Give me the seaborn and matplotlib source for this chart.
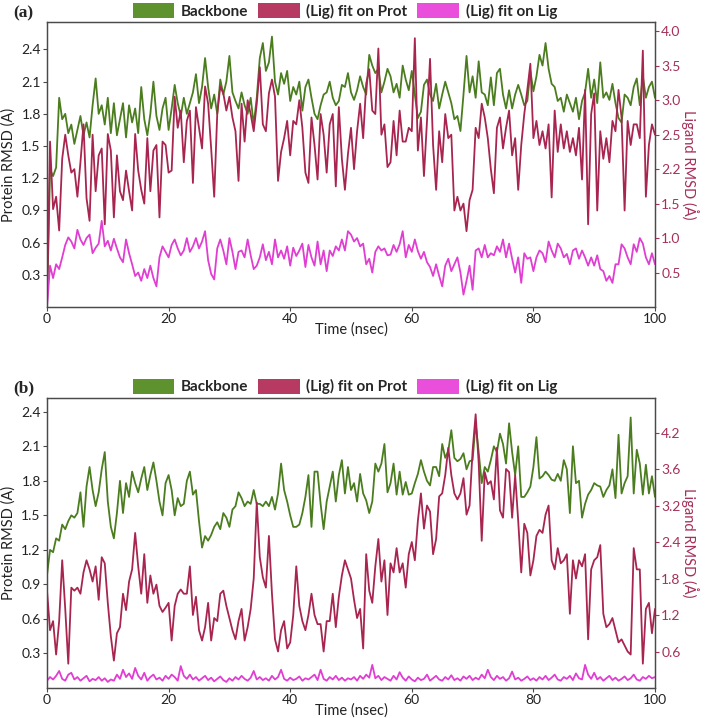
import numpy as np
import pandas as pd
import matplotlib
matplotlib.use("Agg")
import matplotlib.pyplot as plt
import seaborn as sns
from matplotlib.patches import Patch
from matplotlib.ticker import FixedLocator, FixedFormatter, FormatStrFormatter

# ---------------- data (0.5 ns sampling) ----------------
time_ns = [i * 0.5 for i in range(201)]

backbone_a = [
    0.00, 1.28, 1.22, 1.30, 1.95, 1.75, 1.80, 1.62, 1.70, 1.52,
    1.65, 1.78, 1.60, 1.72, 1.58, 1.88, 2.13, 1.80, 1.88, 1.70,
    1.95, 1.62, 1.90, 1.60, 1.75, 1.90, 1.58, 1.88, 1.72, 1.85,
    1.62, 2.05, 1.75, 1.60, 1.80, 2.10, 1.78, 1.65, 1.85, 1.95,
    1.65, 1.85, 2.07, 1.90, 1.78, 1.95, 1.80, 1.90, 2.00, 2.17,
    1.90, 2.05, 2.32, 2.05, 1.85, 1.98, 1.80, 2.12, 1.98, 2.10,
    2.34, 2.00, 1.92, 1.85, 2.00, 1.88, 1.80, 1.95, 1.70, 1.95,
    2.32, 2.46, 2.20, 2.28, 2.52, 2.10, 1.98, 2.18, 2.08, 2.20,
    1.92, 2.05, 1.98, 2.10, 1.83, 2.05, 2.12, 1.95, 1.80, 1.75,
    1.88, 1.98, 2.00, 2.10, 1.95, 1.88, 1.92, 2.07, 2.05, 2.18,
    2.00, 1.93, 2.02, 2.15, 2.05, 1.98, 2.35, 2.25, 2.18, 2.22,
    2.00, 2.10, 2.22, 2.15, 2.00, 2.08, 1.95, 2.25, 2.12, 2.02,
    2.20, 1.98, 1.76, 1.82, 2.07, 2.12, 1.98, 1.92, 2.08, 1.85,
    1.98, 2.10, 2.00, 1.90, 1.75, 1.78, 1.64, 1.98, 2.34, 2.00,
    2.15, 1.95, 2.29, 2.00, 1.98, 1.88, 2.14, 1.88, 2.18, 2.22,
    1.98, 1.85, 2.02, 1.85, 1.98, 2.07, 1.98, 1.88, 1.92, 2.20,
    2.01, 2.15, 2.35, 2.25, 2.46, 2.22, 2.08, 2.05, 1.92, 1.95,
    1.82, 1.98, 1.90, 1.82, 1.95, 1.75, 1.92, 2.00, 2.22, 1.95,
    2.12, 1.90, 2.28, 1.95, 2.00, 1.93, 2.08, 1.90, 1.76, 1.72,
    1.98, 1.95, 1.88, 2.05, 2.13, 1.88, 2.15, 1.95, 2.05, 2.10,
    1.95]

lig_prot_a = [
    0.00, 2.40, 1.42, 1.60, 1.11, 2.15, 2.50, 2.20, 1.95, 2.00,
    1.60, 2.10, 2.65, 1.58, 1.25, 2.50, 1.68, 2.20, 2.30, 1.20,
    2.51, 2.27, 1.30, 2.20, 1.68, 1.55, 1.98, 1.68, 1.40, 2.51,
    1.98, 1.70, 1.50, 2.45, 1.68, 2.27, 2.35, 1.30, 2.40, 2.35,
    1.95, 1.98, 3.05, 2.60, 2.85, 2.10, 2.70, 2.85, 1.80, 2.90,
    2.60, 2.30, 3.20, 2.95, 2.30, 1.60, 2.80, 3.20, 3.10, 2.85,
    3.05, 2.75, 2.55, 1.83, 2.95, 2.40, 3.00, 2.80, 2.55, 2.95,
    3.48, 2.65, 2.55, 3.10, 3.30, 3.05, 1.83, 2.25, 2.45, 2.70,
    2.20, 2.70, 2.65, 3.00, 2.60, 1.95, 1.80, 2.75, 2.35, 1.85,
    2.80, 2.50, 1.95, 2.65, 2.80, 1.75, 2.90, 2.15, 1.70, 2.22,
    2.60, 2.00, 2.55, 2.95, 2.45, 3.24, 3.45, 2.85, 2.80, 3.75,
    2.50, 2.65, 2.03, 2.10, 2.70, 2.20, 2.85, 2.40, 2.40, 2.60,
    2.55, 3.90, 2.27, 2.75, 1.90, 2.70, 3.60, 2.35, 1.70, 2.55,
    2.10, 2.80, 2.45, 2.50, 1.40, 1.60, 1.40, 1.50, 1.10, 1.55,
    1.70, 2.60, 2.45, 2.95, 2.75, 2.45, 2.00, 1.65, 2.60, 2.75,
    2.30, 2.60, 2.85, 2.20, 2.45, 1.70, 2.35, 2.80, 3.15, 3.53,
    2.45, 2.70, 2.35, 2.55, 2.30, 2.65, 1.59, 2.85, 2.25, 2.65,
    2.30, 2.55, 2.25, 2.45, 2.20, 2.60, 1.85, 3.15, 1.20, 2.80,
    3.10, 1.40, 2.55, 2.15, 2.45, 2.10, 2.70, 2.55, 3.15, 2.75,
    1.40, 2.70, 2.35, 2.65, 2.65, 2.45, 3.72, 1.60, 2.35, 2.65,
    2.50]

lig_lig_a = [
    0.00, 0.60, 0.42, 0.62, 0.55, 0.72, 0.90, 1.01, 0.95, 0.85,
    1.12, 0.98, 0.90, 1.00, 1.05, 0.78, 0.86, 0.92, 1.25, 0.88,
    0.96, 0.82, 0.99, 0.85, 0.72, 0.65, 0.98, 0.78, 0.62, 0.45,
    0.50, 0.38, 0.55, 0.42, 0.60, 0.42, 0.30, 0.72, 0.88, 0.80,
    0.72, 0.90, 0.98, 0.85, 0.75, 0.82, 1.00, 0.80, 0.88, 1.00,
    0.85, 0.95, 1.10, 0.68, 0.48, 0.40, 0.85, 0.98, 0.82, 0.62,
    1.00, 0.80, 0.55, 0.80, 0.82, 0.72, 0.98, 0.75, 0.55, 0.60,
    0.72, 0.91, 0.68, 0.80, 0.62, 0.98, 0.72, 0.82, 0.70, 0.88,
    0.60, 0.86, 0.74, 0.82, 0.92, 0.58, 0.90, 0.72, 0.60, 0.95,
    0.62, 0.82, 0.52, 0.82, 0.74, 0.88, 0.82, 0.98, 0.82, 1.10,
    1.05, 0.95, 1.00, 0.88, 0.92, 0.62, 0.70, 0.50, 0.80, 0.88,
    0.82, 0.85, 0.75, 0.76, 0.90, 0.80, 0.91, 1.10, 0.72, 0.90,
    0.80, 0.98, 0.81, 0.70, 0.80, 0.65, 0.58, 0.45, 0.62, 0.45,
    0.30, 0.60, 0.70, 0.52, 0.62, 0.72, 0.50, 0.18, 0.38, 0.60,
    0.25, 0.82, 0.85, 0.72, 0.90, 0.72, 0.78, 0.75, 0.88, 0.80,
    0.98, 0.72, 0.92, 0.70, 0.50, 0.72, 0.35, 0.78, 0.70, 0.72,
    0.52, 0.72, 0.82, 0.78, 0.65, 0.95, 0.82, 0.72, 0.92, 0.85,
    0.72, 0.77, 0.62, 0.82, 0.85, 0.70, 0.82, 0.72, 0.60, 0.72,
    0.60, 0.75, 0.55, 0.52, 0.38, 0.45, 0.35, 0.62, 0.62, 0.91,
    0.85, 0.72, 0.62, 0.91, 0.80, 1.00, 0.92, 0.72, 0.62, 0.78,
    0.62]

backbone_b = [
    0.98, 1.20, 1.18, 1.30, 1.28, 1.42, 1.38, 1.45, 1.50, 1.48,
    1.52, 1.70, 1.40, 1.75, 1.92, 1.72, 1.58, 1.70, 1.90, 2.05,
    1.62, 1.40, 1.30, 1.52, 1.80, 1.52, 1.78, 1.66, 1.88, 1.78,
    1.70, 1.82, 1.92, 1.72, 1.85, 1.96, 1.80, 1.62, 1.50, 1.78,
    1.85, 1.72, 1.50, 1.65, 1.58, 1.60, 1.80, 1.88, 1.68, 1.72,
    1.45, 1.22, 1.32, 1.28, 1.33, 1.40, 1.44, 1.38, 1.52, 1.48,
    1.40, 1.55, 1.58, 1.70, 1.65, 1.58, 1.62, 1.60, 1.72, 1.60,
    1.60, 1.58, 1.62, 1.58, 1.66, 1.55, 1.69, 1.95, 1.72, 1.62,
    1.50, 1.40, 1.40, 1.42, 1.52, 1.66, 1.85, 1.40, 1.88, 1.88,
    1.60, 1.38, 1.62, 1.75, 1.88, 1.62, 1.85, 1.98, 1.69, 1.92,
    1.72, 1.78, 1.62, 1.86, 1.69, 1.63, 1.52, 1.62, 1.95, 1.88,
    1.95, 2.12, 1.70, 1.78, 1.95, 1.68, 1.88, 1.68, 1.79, 1.68,
    1.69, 1.78, 1.86, 1.98, 1.88, 1.80, 1.76, 1.92, 1.92, 1.84,
    2.12, 2.00, 2.06, 2.24, 2.00, 1.97, 1.99, 2.04, 1.90, 1.97,
    1.98, 2.30, 2.05, 1.78, 1.92, 1.88, 1.98, 2.10, 2.05, 2.21,
    2.12, 1.95, 2.30, 2.05, 1.85, 2.10, 1.66, 1.66, 1.70, 1.75,
    1.92, 2.18, 1.82, 1.84, 1.88, 1.85, 1.81, 1.80, 1.86, 1.80,
    1.98, 1.90, 1.52, 2.10, 1.78, 1.80, 1.48, 1.60, 1.68, 1.72,
    1.78, 1.76, 1.75, 1.66, 1.72, 1.76, 1.90, 1.65, 2.20, 1.69,
    1.78, 1.84, 2.35, 1.69, 2.07, 1.95, 1.68, 1.94, 1.69, 1.84,
    1.66]

lig_prot_b = [
    1.60, 0.95, 1.10, 0.55, 1.10, 2.10, 1.30, 0.40, 1.65, 1.60,
    1.65, 1.55, 1.90, 2.10, 1.95, 1.75, 2.00, 1.45, 2.15, 2.05,
    1.40, 0.85, 0.45, 0.90, 1.00, 1.55, 1.28, 1.75, 1.95, 2.55,
    2.00, 1.55, 2.20, 1.40, 1.85, 1.55, 1.70, 1.35, 1.25, 1.32,
    1.40, 0.78, 1.35, 1.55, 1.62, 1.55, 1.55, 2.00, 1.20, 1.50,
    0.95, 0.78, 1.00, 1.40, 0.78, 1.15, 1.10, 1.55, 1.60, 1.35,
    1.15, 0.95, 0.80, 1.10, 1.30, 0.78, 1.00, 1.30, 1.80, 3.05,
    2.15, 1.82, 1.65, 2.50, 1.55, 0.80, 0.60, 0.95, 1.10, 0.65,
    0.75, 1.20, 2.00, 1.35, 1.10, 0.95, 1.20, 1.55, 1.20, 1.05,
    1.05, 0.60, 1.10, 1.10, 1.55, 1.00, 1.50, 1.85, 2.10, 1.95,
    1.80, 1.45, 1.15, 1.30, 0.65, 2.20, 1.60, 1.40, 2.00, 2.45,
    1.75, 2.10, 1.20, 2.05, 1.90, 2.30, 1.90, 2.05, 1.65, 2.20,
    2.40, 2.10, 2.75, 3.20, 2.62, 3.00, 2.90, 2.20, 2.45, 3.15,
    3.20, 3.50, 3.95, 3.50, 3.20, 3.10, 3.20, 3.45, 2.85, 3.00,
    3.90, 4.50, 3.70, 2.42, 3.55, 3.35, 3.40, 3.10, 3.95, 2.92,
    2.80, 3.60, 3.55, 2.80, 3.50, 2.75, 1.90, 2.70, 2.55, 1.85,
    2.10, 2.50, 2.60, 2.55, 2.85, 3.00, 2.10, 1.95, 2.30, 2.05,
    2.10, 2.20, 1.22, 2.10, 1.80, 2.10, 2.00, 2.20, 0.80, 1.95,
    2.10, 2.15, 2.35, 1.22, 1.00, 1.05, 1.15, 0.95, 0.75, 0.80,
    0.70, 0.60, 0.55, 2.30, 1.95, 1.95, 0.40, 1.30, 1.40, 0.90,
    1.30]

lig_lig_b = [
    0.12, 0.18, 0.14, 0.20, 0.28, 0.15, 0.12, 0.22, 0.25, 0.14,
    0.18, 0.12, 0.16, 0.20, 0.11, 0.15, 0.13, 0.18, 0.12, 0.16,
    0.10, 0.14, 0.12, 0.22, 0.15, 0.30, 0.18, 0.24, 0.15, 0.33,
    0.20, 0.14, 0.25, 0.12, 0.18, 0.22, 0.14, 0.17, 0.12, 0.20,
    0.15, 0.22, 0.18, 0.12, 0.36, 0.20, 0.15, 0.22, 0.14, 0.18,
    0.12, 0.16, 0.20, 0.13, 0.17, 0.11, 0.15, 0.19, 0.13, 0.10,
    0.16, 0.12, 0.18, 0.14, 0.20, 0.15, 0.12, 0.17, 0.28, 0.14,
    0.18, 0.13, 0.16, 0.12, 0.20, 0.14, 0.18, 0.30, 0.15, 0.12,
    0.17, 0.13, 0.15, 0.19, 0.12, 0.16, 0.14, 0.18, 0.22, 0.13,
    0.30, 0.15, 0.12, 0.18, 0.14, 0.20, 0.13, 0.17, 0.12, 0.16,
    0.14, 0.18, 0.12, 0.20, 0.15, 0.22, 0.17, 0.38, 0.16, 0.20,
    0.13, 0.18, 0.15, 0.12, 0.20, 0.14, 0.26, 0.17, 0.12, 0.19,
    0.14, 0.11, 0.17, 0.13, 0.15, 0.22, 0.12, 0.16, 0.20, 0.14,
    0.12, 0.18, 0.14, 0.21, 0.13, 0.16, 0.12, 0.19, 0.15, 0.20,
    0.13, 0.17, 0.14, 0.22, 0.16, 0.30, 0.18, 0.13, 0.20, 0.15,
    0.18, 0.12, 0.16, 0.27, 0.14, 0.17, 0.12, 0.15, 0.19, 0.13,
    0.16, 0.12, 0.18, 0.14, 0.20, 0.13, 0.17, 0.22, 0.14, 0.12,
    0.18, 0.15, 0.20, 0.13, 0.24, 0.16, 0.14, 0.38, 0.22, 0.15,
    0.25, 0.14, 0.18, 0.12, 0.16, 0.20, 0.13, 0.17, 0.12, 0.15,
    0.19, 0.13, 0.16, 0.22, 0.14, 0.12, 0.18, 0.15, 0.20, 0.16,
    0.18]

legend_labels = ["Backbone", "(Lig) fit on Prot", "(Lig) fit on Lig"]
x_ticks = [0, 20, 40, 60, 80, 100]
left_ticks = [0.3, 0.6, 0.9, 1.2, 1.5, 1.8, 2.1, 2.4]
right_ticks_a = [0.5, 1.0, 1.5, 2.0, 2.5, 3.0, 3.5, 4.0]
right_labels_a = ["0.5", "1.0", "1.5", "2.2", "2.5", "3.0", "3.5", "4.0"]
right_ticks_b = [0.6, 1.2, 1.8, 2.4, 3.0, 3.6, 4.2]
right_labels_b = ["0.6", "1.2", "1.8", "2.4", "3.2", "3.6", "4.2"]

# ---------------- style ----------------
sns.set_style("ticks")
plt.rcParams["font.family"] = ["Lato", "DejaVu Sans"]

GREEN = "#4b7d1f"
RED = "#a8254f"
PINK = "#e03ed2"
GREEN_PATCH = "#5e922f"
RED_PATCH = "#b73a62"
PINK_PATCH = "#ea4fdc"
RIGHT_COL = "#a6305a"
SPINE = "#4a4a4a"
LW = 1.3

W, H = 708, 718
fig = plt.figure(figsize=(W / 100, H / 100), dpi=100)


def panel(top_px, bot_px, green, red, pink, lylim, rylim, rticks, rlabels, tag):
    left_px, right_px = 47, 655
    h_px = bot_px - top_px
    rect = [left_px / W, 1 - bot_px / H, (right_px - left_px) / W, h_px / H]
    ax = fig.add_axes(rect)
    sns.lineplot(x=time_ns, y=green, ax=ax, color=GREEN, lw=LW)
    ax2 = ax.twinx()
    sns.lineplot(x=time_ns, y=red, ax=ax2, color=RED, lw=LW)
    sns.lineplot(x=time_ns, y=pink, ax=ax2, color=PINK, lw=LW)

    ax.set_xlim(0, 100)
    ax.set_ylim(*lylim)
    ax2.set_ylim(*rylim)
    ax.set_xticks(x_ticks)
    ax.set_yticks(left_ticks)
    ax.yaxis.set_major_formatter(FormatStrFormatter("%.1f"))
    ax2.yaxis.set_major_locator(FixedLocator(rticks))
    ax2.yaxis.set_major_formatter(FixedFormatter(rlabels))

    ax.tick_params(axis="both", labelsize=10, length=3, width=0.8,
                   color=SPINE, labelcolor="#222222", pad=1.5)
    ax2.tick_params(axis="y", labelsize=10, length=3, width=0.8,
                    colors=RIGHT_COL, pad=1.5)
    for a in (ax, ax2):
        for s in a.spines.values():
            s.set_color(SPINE)
            s.set_linewidth(0.9)

    ax.set_xlabel("Time (nsec)", fontsize=10.5, color="#222222")
    ax.xaxis.set_label_coords(0.5, -15.5 / h_px)
    ax.set_ylabel("Protein RMSD (Å)", fontsize=10.5, labelpad=3, color="#222222")
    ax2.set_ylabel("Ligand RMSD (Å)", fontsize=10.5, labelpad=13,
                   color=RIGHT_COL, rotation=270)

    handles = [Patch(facecolor=c, edgecolor="none", label=l)
               for c, l in zip([GREEN_PATCH, RED_PATCH, PINK_PATCH], legend_labels)]
    ax2.legend(handles=handles, loc="lower center", bbox_to_anchor=(0.49, 1.0),
               ncol=3, frameon=False, prop={"weight": "bold", "size": 11},
               handlelength=2.7, handleheight=1.15, handletextpad=0.45,
               columnspacing=0.65, borderaxespad=0.1, borderpad=0.1)

    fig.text(13 / W, 1 - (top_px - 9) / H, tag, family="Liberation Serif",
             weight="bold", fontsize=12.5, ha="left", va="center")


panel(22, 307, backbone_a, lig_prot_a, lig_lig_a, (0, 2.656), (0, 4.135),
      right_ticks_a, right_labels_a, "(a)")
panel(397.5, 688, backbone_b, lig_prot_b, lig_lig_b, (0, 2.524), (0, 4.776),
      right_ticks_b, right_labels_b, "(b)")

fig.savefig("out.png", dpi=100)
